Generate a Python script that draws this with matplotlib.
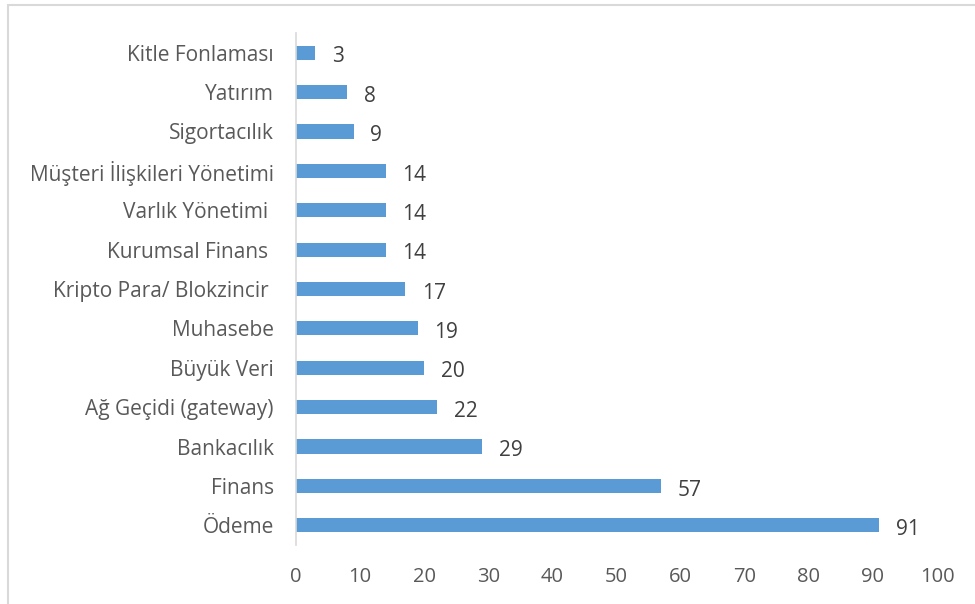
import matplotlib
matplotlib.use("Agg")
import matplotlib.pyplot as plt
from matplotlib.patches import Rectangle

categories = [
    "Kitle Fonlaması",
    "Yatırım",
    "Sigortacılık",
    "Müşteri İlişkileri Yönetimi",
    "Varlık Yönetimi ",
    "Kurumsal Finans ",
    "Kripto Para/ Blokzincir ",
    "Muhasebe",
    "Büyük Veri",
    "Ağ Geçidi (gateway)",
    "Bankacılık",
    "Finans",
    "Ödeme",
]
values = [3, 8, 9, 14, 14, 14, 17, 19, 20, 22, 29, 57, 91]
x_ticks = [0, 10, 20, 30, 40, 50, 60, 70, 80, 90, 100]

plt.rcParams["font.family"] = ["Open Sans", "DejaVu Sans"]

fig = plt.figure(figsize=(9.75, 6.04), dpi=100)
fig.patch.set_facecolor("white")

# light chart-area frame
fig.patches.append(Rectangle((8 / 975, -0.05), 1.2, 1 - 5 / 604 + 0.05,
                             transform=fig.transFigure, fill=False,
                             edgecolor="#D9D9D9", linewidth=1.5))

ax = fig.add_axes([296 / 975, 1 - 545 / 604, (937 - 296) / 975, (545 - 33) / 604])

pos = list(range(len(categories)))
ax.barh(pos, values, height=0.36, color="#5B9BD5")
ax.set_ylim(len(categories) - 0.5, -0.5)
ax.set_xlim(0, 100)
ax.set_xticks(x_ticks)
ax.set_yticks(pos)
ax.set_yticklabels(categories)

for p, v in zip(pos, values):
    ax.annotate(str(v), xy=(v, p), xytext=(12, -3), textcoords="offset points",
                va="center", ha="left", fontsize=15, color="#404040")

for s in ["top", "right", "bottom"]:
    ax.spines[s].set_visible(False)
ax.spines["left"].set_color("#D9D9D9")
ax.spines["left"].set_linewidth(1.2)

ax.tick_params(axis="x", length=0, pad=16, labelsize=14.5, labelcolor="#595959")
ax.tick_params(axis="y", length=0, pad=16, labelsize=15, labelcolor="#595959")

fig.savefig("out.png", dpi=100)
